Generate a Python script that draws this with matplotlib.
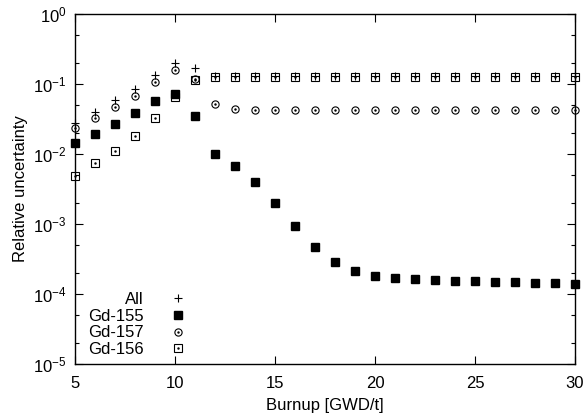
import matplotlib
matplotlib.use("Agg")
import matplotlib.pyplot as plt
from matplotlib.legend_handler import HandlerTuple
from matplotlib.ticker import LogLocator, NullFormatter, FixedLocator

plt.rcParams['font.family'] = ['Liberation Sans', 'DejaVu Sans']
plt.rcParams['mathtext.fontset'] = 'custom'
plt.rcParams['mathtext.rm'] = 'Liberation Sans'
plt.rcParams['mathtext.it'] = 'Liberation Sans'
plt.rcParams['font.size'] = 12

burnup = list(range(5, 31))

# relative uncertainty per nuclide
unc_all = [0.028, 0.040, 0.059, 0.085, 0.134, 0.20, 0.17, 0.132, 0.132, 0.132,
           0.132, 0.132, 0.132, 0.132, 0.132, 0.131, 0.131, 0.131, 0.131, 0.131,
           0.130, 0.130, 0.130, 0.130, 0.130, 0.130]
unc_gd155 = [0.0144, 0.0194, 0.027, 0.038, 0.057, 0.072, 0.035, 0.0100, 0.0068,
             0.0040, 0.0020, 0.00093, 0.00047, 0.00029, 0.000214, 0.000182,
             0.00017, 0.000163, 0.000158, 0.000155, 0.000155, 0.00015,
             0.00015, 0.000145, 0.000145, 0.00014]
unc_gd157 = [0.0235, 0.033, 0.047, 0.068, 0.107, 0.158, 0.117, 0.052, 0.044,
             0.042, 0.042, 0.042, 0.042, 0.042, 0.042, 0.042, 0.042, 0.042,
             0.042, 0.042, 0.042, 0.042, 0.042, 0.042, 0.042, 0.042]
unc_gd156 = [0.0049, 0.0074, 0.0112, 0.018, 0.033, 0.065, 0.114, 0.127, 0.127,
             0.127, 0.127, 0.127, 0.127, 0.127, 0.127, 0.127, 0.127, 0.126,
             0.126, 0.126, 0.126, 0.126, 0.126, 0.126, 0.126, 0.126]

fig = plt.figure(figsize=(5.86, 4.18), dpi=100)
ax = fig.add_axes([75 / 586, 54 / 418, 500 / 586, 350 / 418])

h_all, = ax.plot(burnup, unc_all, ls='none', marker='+', ms=6, mew=0.8,
                 color='black', clip_on=False)
h155, = ax.plot(burnup, unc_gd155, ls='none', marker='s', ms=5.3,
                color='black', clip_on=False)
h157a, = ax.plot(burnup, unc_gd157, ls='none', marker='o', ms=5.2,
                 mfc='none', mec='black', mew=0.8, clip_on=False)
h157b, = ax.plot(burnup, unc_gd157, ls='none', marker='.', ms=1.5,
                 color='black', clip_on=False)
h156a, = ax.plot(burnup, unc_gd156, ls='none', marker='s', ms=5.2,
                 mfc='none', mec='black', mew=0.8, clip_on=False)
h156b, = ax.plot(burnup, unc_gd156, ls='none', marker='.', ms=1.5,
                 color='black', clip_on=False)

ax.set_yscale('log')
ax.set_xlim(5, 30)
ax.set_ylim(1e-5, 1)
ax.xaxis.set_major_locator(FixedLocator([5, 10, 15, 20, 25, 30]))
ax.yaxis.set_minor_locator(LogLocator(base=10, subs=(2, 5), numticks=10))
ax.yaxis.set_minor_formatter(NullFormatter())
ax.set_yticks([1e-5, 1e-4, 1e-3, 1e-2, 1e-1, 1])
ax.set_yticklabels([r'$10^{-5}$', r'$10^{-4}$', r'$10^{-3}$', r'$10^{-2}$',
                    r'$10^{-1}$', r'$10^{0}$'])
ax.tick_params(which='both', direction='in', top=True, right=True,
               labelsize=12)
ax.tick_params(axis='x', pad=9)
ax.tick_params(axis='y', pad=6)
ax.tick_params(which='major', length=6, width=0.8)
ax.tick_params(which='minor', length=3, width=0.8)
for s in ax.spines.values():
    s.set_linewidth(1.0)

ax.set_xlabel('Burnup [GWD/t]', fontsize=12, labelpad=5)
ax.set_ylabel('Relative uncertainty', fontsize=12, labelpad=4)

ax.legend([h_all, h155, (h157a, h157b), (h156a, h156b)],
          ['All', 'Gd-155', 'Gd-157', 'Gd-156'],
          handler_map={tuple: HandlerTuple(ndivide=1, pad=0)},
          markerfirst=False, frameon=False, loc='upper left',
          bbox_to_anchor=(88 / 586, 1 - 292 / 418),
          bbox_transform=fig.transFigure, fontsize=12,
          labelspacing=0.1, handlelength=1.5, handletextpad=1.3,
          borderpad=0, borderaxespad=0)

fig.savefig('out.png', dpi=100)
